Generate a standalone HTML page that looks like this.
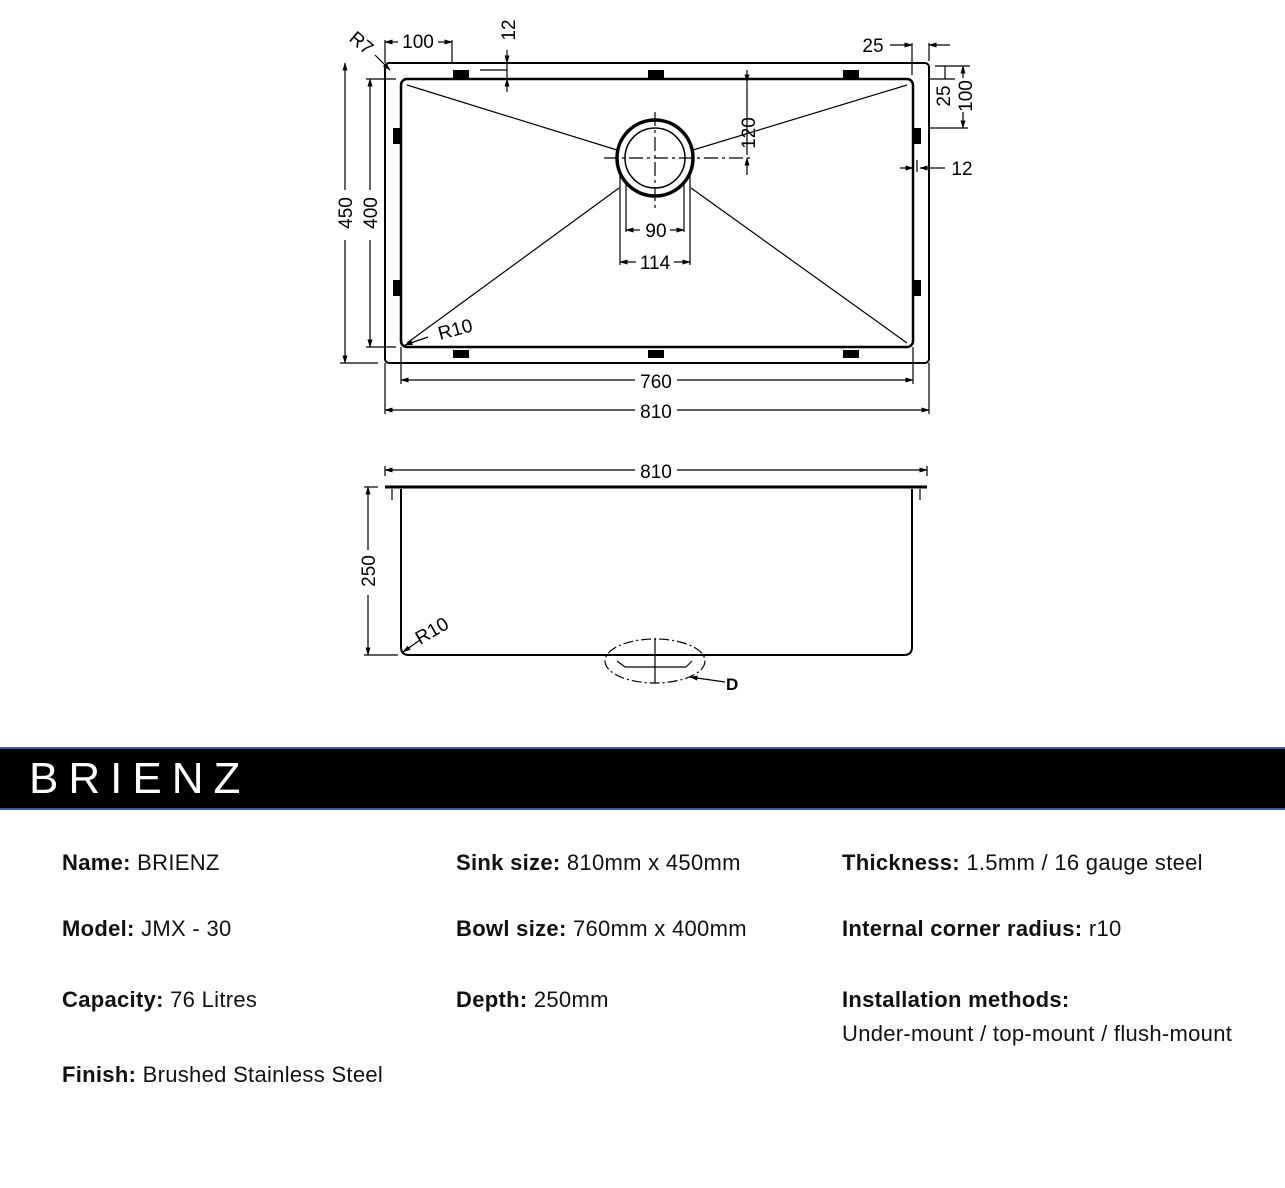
<!DOCTYPE html>
<html><head><meta charset="utf-8"><style>
body{margin:0;width:1285px;height:1188px;background:#fff;position:relative;overflow:hidden;font-family:"Liberation Sans",sans-serif;}
.banner{position:absolute;left:0;top:747px;width:1285px;height:59px;background:#000;border-top:2px solid #3a5a9a;border-bottom:2px solid #3a5a9a;}
.banner span{position:absolute;left:29px;top:5px;color:#fff;font-size:44px;letter-spacing:10px;}
.t{position:absolute;font-size:22px;letter-spacing:0.3px;color:#111;white-space:nowrap;}
.t b{font-weight:bold;}
</style></head><body>
<svg width="1285" height="740" style="position:absolute;left:0;top:0" font-family="Liberation Sans, sans-serif">
<defs><marker id="a" viewBox="0 0 10 10" refX="9" refY="5" markerWidth="7" markerHeight="7" orient="auto-start-reverse"><path d="M0,2L10,5L0,8z" fill="#000"/></marker></defs>
<g stroke="#000" fill="none" stroke-width="2">
<rect x="385" y="63" width="544" height="300" rx="4"/>
<rect x="401" y="79" width="512" height="268" rx="6" stroke-width="2.5"/>
<circle cx="655" cy="158" r="38" stroke-width="3.5"/>
<circle cx="655" cy="158" r="30" stroke-width="1.5"/>
</g>
<g stroke="#000" stroke-width="1.2" fill="none">
<line x1="407" y1="85" x2="617" y2="150"/><line x1="907" y1="85" x2="693" y2="150"/>
<line x1="407" y1="343" x2="619" y2="188"/><line x1="907" y1="343" x2="691" y2="188"/>
<line x1="604" y1="158" x2="750" y2="158" stroke-dasharray="14 4 3 4"/>
<line x1="655" y1="112" x2="655" y2="210" stroke-dasharray="14 4 3 4"/>
<line x1="620" y1="170" x2="620" y2="265"/><line x1="690" y1="170" x2="690" y2="265"/>
<line x1="626" y1="180" x2="626" y2="232"/><line x1="684" y1="180" x2="684" y2="232"/>
<line x1="626" y1="230" x2="640" y2="230" marker-start="url(#a)"/><line x1="670" y1="230" x2="684" y2="230" marker-end="url(#a)"/>
<line x1="620" y1="262" x2="636" y2="262" marker-start="url(#a)"/><line x1="674" y1="262" x2="690" y2="262" marker-end="url(#a)"/>
<line x1="747" y1="70" x2="747" y2="82" marker-end="url(#a)"/><line x1="747" y1="82" x2="747" y2="155"/><line x1="747" y1="158" x2="747" y2="175" marker-start="url(#a)"/>
<line x1="345" y1="63" x2="345" y2="190" marker-start="url(#a)"/><line x1="345" y1="240" x2="345" y2="363" marker-end="url(#a)"/>
<line x1="340" y1="363" x2="378" y2="363"/>
<line x1="370" y1="79" x2="370" y2="190" marker-start="url(#a)"/><line x1="370" y1="240" x2="370" y2="347" marker-end="url(#a)"/>
<line x1="366" y1="79" x2="396" y2="79"/><line x1="366" y1="347" x2="396" y2="347"/>
<line x1="401" y1="347" x2="401" y2="384"/><line x1="913" y1="347" x2="913" y2="384"/>
<line x1="401" y1="380" x2="635" y2="380" marker-start="url(#a)"/><line x1="677" y1="380" x2="913" y2="380" marker-end="url(#a)"/>
<line x1="385" y1="363" x2="385" y2="414"/><line x1="929" y1="363" x2="929" y2="414"/>
<line x1="385" y1="410" x2="635" y2="410" marker-start="url(#a)"/><line x1="677" y1="410" x2="929" y2="410" marker-end="url(#a)"/>
<line x1="385" y1="40" x2="385" y2="63"/><line x1="452" y1="40" x2="452" y2="63"/>
<line x1="385" y1="42" x2="398" y2="42" marker-start="url(#a)"/><line x1="438" y1="42" x2="452" y2="42" marker-end="url(#a)"/>
<line x1="507" y1="50" x2="507" y2="63" marker-end="url(#a)"/><line x1="507" y1="79" x2="507" y2="92" marker-start="url(#a)"/><line x1="507" y1="63" x2="507" y2="79"/>
<line x1="480" y1="70" x2="507" y2="70"/>
<line x1="375" y1="55" x2="390" y2="70" marker-end="url(#a)"/>
<line x1="912" y1="43" x2="912" y2="75"/><line x1="929" y1="43" x2="929" y2="61"/>
<line x1="890" y1="45" x2="912" y2="45" marker-end="url(#a)"/><line x1="929" y1="45" x2="950" y2="45" marker-start="url(#a)"/>
<line x1="935" y1="66" x2="970" y2="66"/><line x1="930" y1="128" x2="968" y2="128"/><line x1="930" y1="79" x2="955" y2="79"/>
<line x1="945" y1="66" x2="945" y2="79"/><line x1="963" y1="66" x2="963" y2="78" marker-start="url(#a)"/><line x1="963" y1="112" x2="963" y2="128" marker-end="url(#a)"/>
<line x1="900" y1="168" x2="913" y2="168" marker-end="url(#a)"/><line x1="920" y1="168" x2="945" y2="168" marker-start="url(#a)"/><line x1="917" y1="160" x2="917" y2="172"/>
<line x1="405" y1="345" x2="428" y2="337" marker-start="url(#a)"/>
</g>
<g fill="#000">
<rect x="453" y="70" width="16" height="8"/><rect x="648" y="70" width="16" height="8"/><rect x="843" y="70" width="16" height="8"/>
<rect x="453" y="350" width="16" height="8"/><rect x="648" y="350" width="16" height="8"/><rect x="843" y="350" width="16" height="8"/>
<rect x="393" y="128" width="7" height="16"/><rect x="393" y="280" width="7" height="16"/>
<rect x="914" y="128" width="7" height="16"/><rect x="914" y="280" width="7" height="16"/>
</g>
<g font-size="19" fill="#000">
<text x="656" y="388" text-anchor="middle">760</text>
<text x="656" y="418" text-anchor="middle">810</text>
<text x="656" y="237" text-anchor="middle">90</text>
<text x="655" y="269" text-anchor="middle">114</text>
<text x="418" y="48" text-anchor="middle">100</text>
<text x="873" y="52" text-anchor="middle">25</text>
<text x="962" y="175" text-anchor="middle">12</text>
<text x="440" y="340" transform="rotate(-15 440 340)">R10</text>
<text transform="translate(352,213) rotate(-90)" text-anchor="middle">450</text>
<text transform="translate(377,213) rotate(-90)" text-anchor="middle">400</text>
<text transform="translate(755,133) rotate(-90)" text-anchor="middle">120</text>
<text transform="translate(515,30) rotate(-90)" text-anchor="middle">12</text>
<text transform="translate(950,96) rotate(-90)" text-anchor="middle">25</text>
<text transform="translate(972,96) rotate(-90)" text-anchor="middle">100</text>
<text transform="translate(348,40) rotate(40)">R7</text>
</g>
<g stroke="#000" fill="none" stroke-width="2">
<line x1="385" y1="487" x2="927" y2="487" stroke-width="3"/>
<path d="M401,489 V647 Q401,655 409,655 H904 Q912,655 912,647 V489"/>
</g>
<g stroke="#000" stroke-width="1.2" fill="none">
<line x1="392" y1="489" x2="392" y2="500"/><line x1="920" y1="489" x2="920" y2="500"/>
<line x1="385" y1="466" x2="385" y2="476"/><line x1="927" y1="466" x2="927" y2="476"/>
<line x1="385" y1="470" x2="635" y2="470" marker-start="url(#a)"/><line x1="677" y1="470" x2="927" y2="470" marker-end="url(#a)"/>
<line x1="364" y1="487" x2="378" y2="487"/><line x1="364" y1="655" x2="398" y2="655"/>
<line x1="368" y1="487" x2="368" y2="550" marker-start="url(#a)"/><line x1="368" y1="595" x2="368" y2="655" marker-end="url(#a)"/>
<ellipse cx="655" cy="661" rx="50" ry="22" stroke-dasharray="10 3 2 3"/>
<line x1="655" y1="638" x2="655" y2="683"/>
<path d="M617,661 L625,667 H686 L692,661" />
<line x1="725" y1="682" x2="690" y2="677" marker-end="url(#a)"/>
<line x1="403" y1="652" x2="420" y2="640" marker-start="url(#a)"/>
</g>
<g font-size="19" fill="#000">
<text x="656" y="478" text-anchor="middle">810</text>
<text transform="translate(375,571) rotate(-90)" text-anchor="middle">250</text>
<text x="420" y="645" transform="rotate(-30 420 645)">R10</text>
<text x="726" y="690" font-weight="bold" font-size="17">D</text>
</g>
</svg>
<div class="banner"><span>BRIENZ</span></div>
<div class="t" style="left:62px;top:850px"><b>Name:</b> BRIENZ</div>
<div class="t" style="left:62px;top:916px"><b>Model:</b> JMX - 30</div>
<div class="t" style="left:62px;top:987px"><b>Capacity:</b> 76 Litres</div>
<div class="t" style="left:62px;top:1062px"><b>Finish:</b> Brushed Stainless Steel</div>
<div class="t" style="left:456px;top:850px"><b>Sink size:</b> 810mm x 450mm</div>
<div class="t" style="left:456px;top:916px"><b>Bowl size:</b> 760mm x 400mm</div>
<div class="t" style="left:456px;top:987px"><b>Depth:</b> 250mm</div>
<div class="t" style="left:842px;top:850px"><b>Thickness:</b> 1.5mm / 16 gauge steel</div>
<div class="t" style="left:842px;top:916px"><b>Internal corner radius:</b> r10</div>
<div class="t" style="left:842px;top:987px"><b>Installation methods:</b></div>
<div class="t" style="left:842px;top:1021px">Under-mount / top-mount / flush-mount</div>
</body></html>
